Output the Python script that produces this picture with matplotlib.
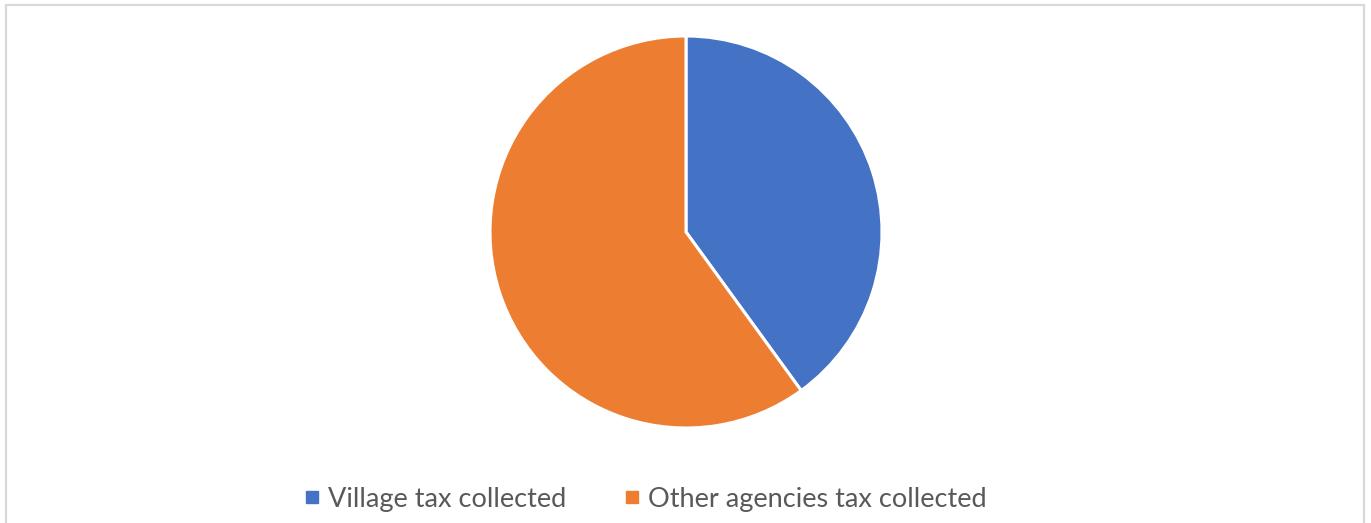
import matplotlib.pyplot as plt
from matplotlib.lines import Line2D
from matplotlib.patches import Rectangle

labels = ["Village tax collected", "Other agencies tax collected"]
shares = [40, 60]
colors = ["#4472C4", "#ED7D31"]

W, H = 1371, 523
fig = plt.figure(figsize=(W / 100, H / 100), dpi=100)
fig.patch.set_facecolor("white")

# chart area frame (bottom edge runs off the canvas)
fig.add_artist(Rectangle((6 / W, -0.05), 1358 / W, 1 - 5 / H + 0.05,
                         transform=fig.transFigure, fill=False,
                         edgecolor="#d9d9d9", linewidth=1.6))

cx, cy, r = 686, 232, 196
ax = fig.add_axes([(cx - r) / W, (H - cy - r) / H, 2 * r / W, 2 * r / H])
ax.pie(shares, colors=colors, startangle=90, counterclock=False,
       wedgeprops=dict(edgecolor="white", linewidth=2.2))
ax.set_xlim(-1, 1)
ax.set_ylim(-1, 1)
ax.set_aspect("equal")
ax.set_axis_off()

handles = [Line2D([], [], linestyle="none", marker="s", markersize=9,
                  markerfacecolor=c, markeredgecolor=c) for c in colors]
fig.legend(handles, labels, loc="center", bbox_to_anchor=(646 / W, 1 - 499 / H),
           ncol=2, frameon=False, handlelength=0.5, handletextpad=0.33,
           columnspacing=2.2, prop={"family": "Lato", "size": 19.5},
           labelcolor="#595959")

fig.savefig("out.png", dpi=100)
